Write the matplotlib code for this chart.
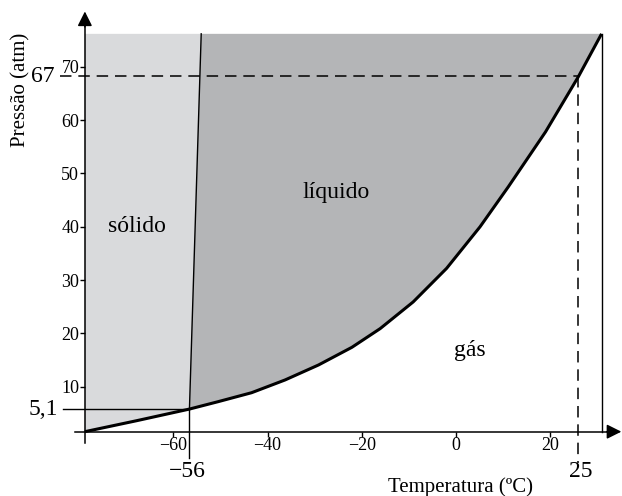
# Diagrama de fases do CO2 (esquemático)
import numpy as np
import matplotlib.pyplot as plt

plt.rcParams['font.family'] = ['Liberation Serif', 'DejaVu Serif']

# ── Dados ─────────────────────────────────────────────────────
# curva de vaporização/sublimação (T em ºC, P em atm)
curva_T = [-78.8, -67.8, -56.6, -50.5, -43.4, -36.3, -29.2, -22.1, -16.1,
           -9.1, -2.0, 5.1, 11.1, 19.0, 26.0, 30.9]
curva_P = [1.56, 3.62, 5.8, 7.19, 8.87, 11.26, 14.07, 17.39, 20.9,
           25.9, 32.2, 40.0, 47.5, 57.8, 68.2, 76.2]

# linha de fusão (sólido/líquido)
fusao_T = [-56.6, -54.1]
fusao_P = [5.8, 76.2]

P_topo = 76.2                      # topo das regiões sombreadas
T_eixo, P_eixo = -78.8, 1.56       # cruzamento dos eixos

# pontos destacados: ponto triplo e ponto (25 ºC, 67 atm)
ponto_triplo = (-56.6, 5.8)
ponto_25 = (26.0, 68.2)
rot_triplo = ('−56', '5,1')
rot_25 = ('25', '67')

ticks_T = [-60, -40, -20, 0, 20]
ticks_P = [10, 20, 30, 40, 50, 60, 70]

regioes = ['sólido', 'líquido', 'gás']
regioes_T = [-67.7, -25.5, 3.0]
regioes_P = [40.1, 46.5, 16.7]

cor_solido = '#d9dadc'
cor_liquido = '#b4b5b7'

# ── Figura ────────────────────────────────────────────────────
fig = plt.figure(figsize=(6.22, 4.96), dpi=100)
ax = fig.add_axes([0, 0, 1, 1])
ax.set_xlim(-96.82, 35.24)
ax.set_ylim(-10.51, 82.55)

# regiões sombreadas
i_tr = curva_T.index(ponto_triplo[0])
xs = curva_T[:i_tr + 1] + [fusao_T[1], T_eixo]
ys = curva_P[:i_tr + 1] + [P_topo, P_topo]
ax.fill(xs, ys, color=cor_solido, lw=0, zorder=1)

xl = curva_T[i_tr:] + [fusao_T[1]]
yl = curva_P[i_tr:] + [P_topo]
ax.fill(xl, yl, color=cor_liquido, lw=0, zorder=1)

# linhas
ax.plot(curva_T, curva_P, color='black', lw=2.2, zorder=4,
        solid_capstyle='butt', solid_joinstyle='round')
ax.plot(fusao_T, fusao_P, color='black', lw=1.0, zorder=3)
ax.plot([curva_T[-1], curva_T[-1]], [P_eixo, curva_P[-1]],
        color='black', lw=1.0, zorder=3)

# ponto triplo: linhas de referência
ax.plot([-83.4, ponto_triplo[0]], [ponto_triplo[1]] * 2,
        color='black', lw=1.0, zorder=3)
ax.plot([ponto_triplo[0]] * 2, [-3.4, ponto_triplo[1]],
        color='black', lw=1.0, zorder=3)

# 25 ºC / 67 atm: linhas tracejadas
ax.plot([-84.1, ponto_25[0]], [ponto_25[1]] * 2, color='black',
        lw=1.1, ls=(0, (7.5, 4.5)), zorder=3)
ax.plot([ponto_25[0]] * 2, [ponto_25[1], -4.3], color='black',
        lw=1.1, ls=(0, (7.5, 4.5)), zorder=3)

# rótulos grandes
ax.text(-84.5, ponto_triplo[1], rot_triplo[1], fontsize=17,
        ha='right', va='center')
ax.text(ponto_triplo[0] - 0.5, -6.0, rot_triplo[0], fontsize=17,
        ha='center', va='center')
ax.text(-85.2, ponto_25[1], rot_25[1], fontsize=17, ha='right', va='center')
ax.text(ponto_25[0] + 0.5, -6.0, rot_25[0], fontsize=17,
        ha='center', va='center')

for nome, t, p in zip(regioes, regioes_T, regioes_P):
    ax.text(t, p, nome, fontsize=17, ha='center', va='center')

ax.text(0.85, -8.8, 'Temperatura (ºC)', fontsize=15, ha='center', va='center')
ax.text(-92.3, 65.7, 'Pressão (atm)', fontsize=15, rotation=90,
        ha='center', va='center')

# ── Eixos com setas ──────────────────────────────────────────
for s in ['top', 'right']:
    ax.spines[s].set_visible(False)
ax.spines['left'].set_position(('data', T_eixo))
ax.spines['bottom'].set_position(('data', P_eixo))
ax.spines['left'].set_bounds(-0.56, 78.5)
ax.spines['bottom'].set_bounds(-80.9, 33.0)
for s in ['left', 'bottom']:
    ax.spines[s].set_linewidth(1.1)
    ax.spines[s].set_zorder(5)

ax.annotate('', xy=(T_eixo, 80.4), xytext=(T_eixo, 77.5),
            arrowprops=dict(arrowstyle='-|>', color='black', lw=1.1,
                            mutation_scale=22, shrinkA=0, shrinkB=0))
ax.annotate('', xy=(35.1, P_eixo), xytext=(32.0, P_eixo),
            arrowprops=dict(arrowstyle='-|>', color='black', lw=1.1,
                            mutation_scale=22, shrinkA=0, shrinkB=0))

ax.set_xticks(ticks_T)
ax.set_yticks(ticks_P)
ax.tick_params(direction='out', length=3.6, width=1.0, pad=0.5,
               labelsize=13)
ax.patch.set_alpha(0)

plt.savefig('out.png', dpi=100)
